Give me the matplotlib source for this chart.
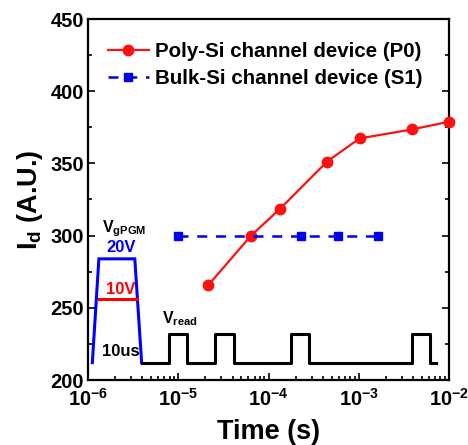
import matplotlib
matplotlib.use("Agg")
import matplotlib.pyplot as plt
from matplotlib.ticker import LogLocator, MultipleLocator, NullFormatter

plt.rcParams['font.family'] = ['Liberation Sans', 'DejaVu Sans']
plt.rcParams['font.weight'] = 'bold'
plt.rcParams['mathtext.fontset'] = 'custom'
plt.rcParams['mathtext.rm'] = 'Liberation Sans:bold'
plt.rcParams['mathtext.bf'] = 'Liberation Sans:bold'
plt.rcParams['mathtext.default'] = 'bf'

# Data
poly_t = [2.14e-5, 6.4e-5, 1.33e-4, 4.44e-4, 1.02e-3, 3.86e-3, 9.9e-3]
poly_id = [265.5, 300, 318.3, 351.2, 367.3, 373.5, 378.8]
bulk_t = [1.0e-5, 2.29e-4, 5.87e-4, 1.65e-3]
bulk_id = [300, 300, 300, 300]

# Schematic waveform (in data units)
pgm_t = [1.117e-6, 1.32e-6, 3.3e-6, 3.93e-6]
pgm_v = [212, 283.9, 283.9, 212]
pgm10_t = [1.31e-6, 3.45e-6]
pgm10_v = [255.8, 255.8]
read_t = [3.93e-6, 7.87e-6, 7.87e-6, 1.256e-5, 1.256e-5, 2.58e-5, 2.58e-5, 4.12e-5, 4.12e-5,
          1.79e-4, 1.79e-4, 2.83e-4, 2.83e-4, 3.86e-3, 3.86e-3, 6.17e-3, 6.17e-3, 7.12e-3]
read_v = [212, 212, 232, 232, 212, 212, 232, 232, 212,
          212, 232, 232, 212, 212, 232, 232, 212, 212]

fig = plt.figure(figsize=(4.68, 4.45), dpi=100)
ax = fig.add_axes([88/468, 1 - 380/445, 361/468, 361/445])

ax.plot(pgm_t, pgm_v, color='#0000ff', lw=2.2, solid_joinstyle='miter')
ax.plot(pgm10_t, pgm10_v, color='#ff0000', lw=2.2)
ax.plot(read_t, read_v, color='black', lw=2.2)

ax.plot(poly_t, poly_id, '-o', color='#ff1010', lw=1.6, ms=7.5,
        label='Poly-Si channel device (P0)', clip_on=False, zorder=5)
ax.plot(bulk_t, bulk_id, '--s', color='#0000ee', lw=1.8, ms=6.3, dashes=(4, 3.5),
        label='Bulk-Si channel device (S1)', zorder=5)

ax.set_xscale('log')
ax.set_xlim(1e-6, 1e-2)
ax.set_ylim(200, 450)
ax.yaxis.set_major_locator(MultipleLocator(50))
ax.yaxis.set_minor_locator(MultipleLocator(25))
ax.xaxis.set_major_locator(LogLocator(base=10, numticks=10))
ax.xaxis.set_minor_locator(LogLocator(base=10, subs=range(2, 10), numticks=20))
ax.xaxis.set_minor_formatter(NullFormatter())

ax.tick_params(which='both', direction='in', top=False, right=True, width=1.2)
ax.tick_params(which='major', length=5, labelsize=14.5)
ax.tick_params(which='minor', length=3)
ax.tick_params(axis='x', pad=6)
ax.tick_params(axis='y', pad=3)
for lab in ax.get_xticklabels() + ax.get_yticklabels():
    lab.set_fontweight('bold')
for s in ax.spines.values():
    s.set_linewidth(1.6)

ax.set_xlabel('Time (s)', fontsize=19.5, fontweight='bold', labelpad=6)
ax.set_ylabel(r'I$_{\mathregular{d}}$ (A.U.)', fontsize=19.5, fontweight='bold', labelpad=4)

ax.text(1.43e-6, 302.5, r'V$_{\mathregular{gPGM}}$', fontsize=11.5, ha='left', va='baseline', fontweight='bold')
ax.text(2.32e-6, 292.1, '20V', fontsize=12, ha='center', va='center', color='#0000ff', fontweight='bold')
ax.text(2.32e-6, 263, '10V', fontsize=12, ha='center', va='center', color='#ff0000', fontweight='bold')
ax.text(2.32e-6, 220, '10us', fontsize=12, ha='center', va='center', color='black', fontweight='bold')
ax.text(6.6e-6, 239.5, r'V$_{\mathregular{read}}$', fontsize=11.5, ha='left', va='baseline', fontweight='bold')

leg = ax.legend(loc='upper left', bbox_to_anchor=(0.055, 0.937), frameon=False, borderpad=0,
                borderaxespad=0, fontsize=14.8, handlelength=2.0, handletextpad=0.3,
                labelspacing=0.42)
for t in leg.get_texts():
    t.set_fontweight('bold')

fig.savefig('out.png', dpi=100)
